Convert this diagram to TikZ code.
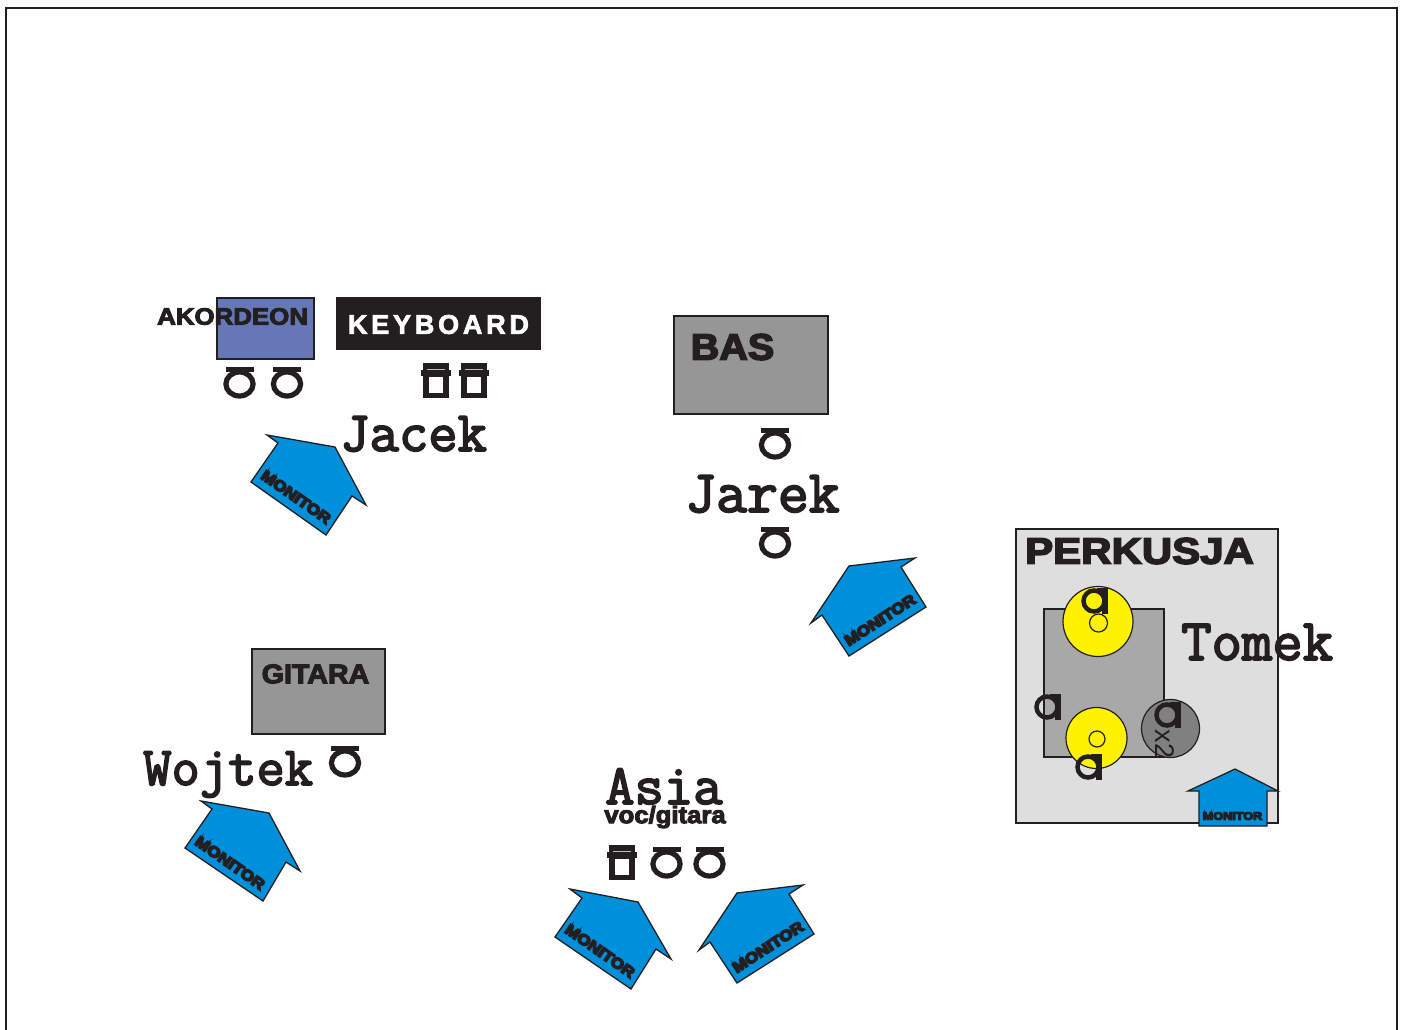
\documentclass[tikz,border=0pt]{standalone}
\usepackage{fontspec}
\newfontfamily\hv[FakeBold=4]{Liberation Sans Bold}
\newfontfamily\hvk[FakeBold=2.5]{Liberation Sans Bold}
\newfontfamily\hvm[FakeBold=10]{Liberation Sans Bold}
\newfontfamily\hvplain{Liberation Sans}
\newfontfamily\tw[FakeBold=3]{Latin Modern Mono}
\newcommand{\fsz}[1]{\fontsize{#1}{#1}\selectfont}
\definecolor{ink}{HTML}{231F20}
\definecolor{mon}{HTML}{0090DB}
\definecolor{akblue}{HTML}{6577B5}
\definecolor{midgray}{HTML}{969696}
\definecolor{pale}{HTML}{DEDEDE}
\definecolor{inner}{HTML}{A8A8A8}
\definecolor{drum}{HTML}{808080}
\definecolor{cym}{HTML}{FFF200}
\tikzset{
  box/.style={draw=ink,line width=1.5pt},
  lab/.style={inner sep=0pt,text=ink,font=\hv},
  who/.style={inner sep=0pt,anchor=base west,text=ink,font=\tw},
  monshape/.style={draw=ink,fill=mon,line width=1.3pt,line join=miter},
  montext/.style={inner sep=0pt,text=ink},
  cymbal/.style={draw=ink,fill=cym,line width=1.2pt},
}
\newcommand{\micup}[3]{% name, x, y
  \begin{scope}[shift={(#2,#3)}]
    \draw[ink,line width=5.2pt] (0,0) ellipse [x radius=13.6,y radius=12];
    \fill[ink] (-14,-17) rectangle (14,-12);
    \coordinate (#1) at (0,0);
  \end{scope}}
\newcommand{\micside}[3]{%
  \begin{scope}[shift={(#2,#3)}]
    \draw[ink,line width=4.5pt] (0,0) circle [radius=10.5];
    \fill[ink] (8,-13) rectangle (14,13);
    \fill[ink] (3,-13) rectangle (14,-8);
    \coordinate (#1) at (0,0);
  \end{scope}}
\newcommand{\dibox}[3]{%
  \begin{scope}[shift={(#2,#3)}]
    \fill[ink] (-13,-17.5) rectangle (13,17.5);
    \fill[ink] (-15,-11) rectangle (15,-4.5);
    \fill[white] (-7,-3.5) rectangle (7,12.5);
    \fill[white!70!ink] (-9,-11.8) rectangle (9,-11);
    \coordinate (#1) at (0,0);
  \end{scope}}
\begin{document}
\begin{tikzpicture}[x=1pt,y=-1pt]
\useasboundingbox (0,0) rectangle (1405,1030);
\fill[white] (0,0) rectangle (1405,1030);
\draw[ink,line width=1.5pt] (6,1030) -- (6,8) -- (1397,8) -- (1397,1030);

% instruments
\node[box,fill=akblue,minimum width=97pt,minimum height=61pt,inner sep=0pt] (ak) at (265.5,328.5) {};
\node[lab,anchor=west] (aklab) at (157,316.5) {\fsz{23.5}\scalebox{1.1}[1]{AKORDEON}};
\node[fill=ink,minimum width=205pt,minimum height=53pt,inner sep=0pt] (kb) at (438.5,323.5) {};
\node[inner sep=0pt,text=white,font=\hvk] (kblab) at (438.5,324.5) {\fsz{27}\addfontfeature{LetterSpace=14}KEYBOARD};
\node[box,fill=midgray,minimum width=154pt,minimum height=98pt,inner sep=0pt] (bas) at (751,365) {};
\node[lab,anchor=west] (baslab) at (690.5,347) {\fsz{37}\scalebox{1.07}[1]{BAS}};
\node[box,fill=midgray,minimum width=133pt,minimum height=85pt,inner sep=0pt] (git) at (318.5,691.5) {};
\node[lab,anchor=west] (gitlab) at (261.5,674) {\fsz{27}\scalebox{1.06}[1]{GITARA}};

% percussion
\node[box,fill=pale,minimum width=262pt,minimum height=294pt,inner sep=0pt] (perk) at (1147,676) {};
\node[lab,anchor=west] (perklab) at (1025,551) {\fsz{37}\scalebox{1.135}[1]{PERKUSJA}};
\node[draw=ink,line width=1.2pt,fill=inner,minimum width=120pt,minimum height=148pt,inner sep=0pt] (kit) at (1104,683) {};
\node[cymbal,circle,minimum size=70pt,inner sep=0pt] (cymA) at (1098,621.5) {};
\node[cymbal,circle,minimum size=18pt,inner sep=0pt] (cymAi) at (1098.5,623) {};
\node[cymbal,circle,minimum size=61pt,inner sep=0pt] (cymB) at (1096.5,738) {};
\node[cymbal,circle,minimum size=16pt,inner sep=0pt] (cymBi) at (1097,739) {};
\node[draw=ink,line width=1.2pt,fill=drum,circle,minimum size=58pt,inner sep=0pt] (tom) at (1170.5,728.5) {};
\node[inner sep=0pt,text=ink,rotate=-90] (x2) at (1165,744) {\hvplain\fsz{27}x2};
\micside{pmA}{1094}{601}
\micside{pmB}{1047}{707}
\micside{pmC}{1088}{767}
\micside{pmD}{1167}{715}

% microphones and DI boxes
\micup{mA}{239.5}{384}
\micup{mB}{287}{384}
\dibox{dA}{435.5}{380.5}
\dibox{dB}{474}{380.5}
\micup{mC}{775}{445}
\micup{mD}{775}{544}
\micup{mE}{345}{763}
\dibox{dC}{621.7}{862.5}
\micup{mF}{666.5}{864}
\micup{mG}{709.5}{864}

% names
\node[who] (jacek) at (340,451) {\fsz{57}Jacek};
\node[who] (jarek) at (685,512) {\fsz{60}Jarek};
\node[who] (tomek) at (1181,660) {\fsz{59}Tomek};
\node[who] (wojtek) at (143,785) {\fsz{55}Wojtek};
\node[who] (asia) at (605,804) {\fsz{57}Asia};
\node[lab] (voc) at (665,817) {\fsz{24}\scalebox{1.07}[1]{voc/gitara}};

% monitors
\draw[monshape] (267,435) -- (335,447) -- (366,505) -- (352,496) -- (326,535) -- (251,482) -- (278,443) -- cycle;
\node[montext,rotate=-35] (monA) at (296,497) {\hvm\fsz{15}\scalebox{1.15}[1]{MONITOR}};
\draw[monshape] (201,801) -- (269,813) -- (300,871) -- (286,862) -- (263,901) -- (185,848) -- (212,809) -- cycle;
\node[montext,rotate=-35] (monB) at (230,863) {\hvm\fsz{15}\scalebox{1.15}[1]{MONITOR}};
\draw[monshape] (570,889) -- (638,902) -- (671,959) -- (656,949) -- (631,989) -- (555,937) -- (582,898) -- cycle;
\node[montext,rotate=-35] (monC) at (600,951) {\hvm\fsz{15}\scalebox{1.15}[1]{MONITOR}};
\draw[monshape] (803,885) -- (737,893) -- (699,950) -- (710,942) -- (737,983) -- (814,934) -- (789,894) -- cycle;
\node[montext,rotate=33] (monD) at (768,947) {\hvm\fsz{15}\scalebox{1.15}[1]{MONITOR}};
\draw[monshape] (915,558) -- (849,566) -- (811,623) -- (822,615) -- (849,656) -- (926,607) -- (901,567) -- cycle;
\node[montext,rotate=33] (monE) at (880,620) {\hvm\fsz{15}\scalebox{1.15}[1]{MONITOR}};
\draw[monshape] (1235,769) -- (1278,791) -- (1267,791) -- (1267,826) -- (1199,826) -- (1199,791) -- (1188,791) -- cycle;
\node[montext] (monF) at (1232.5,816) {\hvm\fsz{11}\scalebox{1.15}[1]{MONITOR}};
\end{tikzpicture}
\end{document}
